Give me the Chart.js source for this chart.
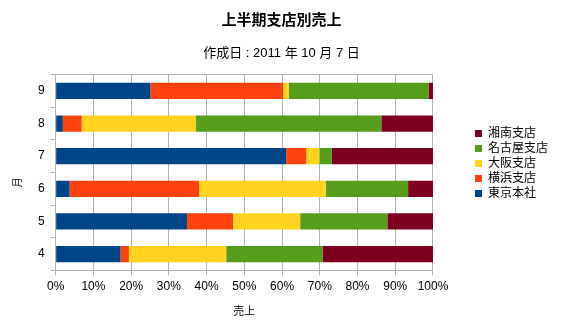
<!DOCTYPE html>
<html>
<head>
<meta charset="utf-8">
<script src="https://cdn.jsdelivr.net/npm/chart.js@4/dist/chart.umd.min.js"></script>
<style>
  html, body { margin: 0; padding: 0; background: #fff; }
  #wrap { width: 563px; height: 329px; }
</style>
</head>
<body>
<div id="wrap"><canvas id="salesChart"></canvas></div>
<script>
// months, top row first
const months = ['9', '8', '7', '6', '5', '4'];

// share of half-year sales per branch (%)
const tokyo    = [25.1,  1.9, 61.1,  3.7, 34.8, 17.2];
const yokohama = [35.2,  5.0,  5.3, 34.3, 12.2,  2.2];
const osaka    = [ 1.5, 30.3,  3.5, 33.6, 17.8, 25.8];
const nagoya   = [37.0, 49.1,  3.3, 21.8, 23.1, 25.5];
const shonan   = [ 1.2, 13.7, 26.8,  6.6, 12.1, 29.3];

const xTicks = [0, 10, 20, 30, 40, 50, 60, 70, 80, 90, 100];

const FONT = '"Liberation Sans", "Noto Sans CJK JP", sans-serif';
const GRID = '#b3b3b3';

// leave empty space between the plot and the legend
const LEGEND_GAP = 39;
const legendSpacing = {
    id: 'legendSpacing',
    beforeInit(chart) {
        const legend = chart.legend;
        const fit = legend.fit;
        legend.fit = function () {
            fit.call(this);
            this.width += LEGEND_GAP;
        };
    },
    afterLayout(chart) {
        chart.legend.left += LEGEND_GAP;
    }
};

const ctx = document.getElementById('salesChart').getContext('2d');

new Chart(ctx, {
    type: 'bar',
    data: {
        labels: months,
        datasets: [
            { label: '東京本社', data: tokyo, backgroundColor: '#004586' },
            { label: '横浜支店', data: yokohama, backgroundColor: '#ff420e' },
            { label: '大阪支店', data: osaka, backgroundColor: '#ffd320' },
            { label: '名古屋支店', data: nagoya, backgroundColor: '#579d1c' },
            { label: '湘南支店', data: shonan, backgroundColor: '#7e0021' }
        ]
    },
    plugins: [legendSpacing],
    options: {
        indexAxis: 'y',
        responsive: true,
        maintainAspectRatio: false,
        animation: false,
        datasets: {
            bar: { barPercentage: 0.5, categoryPercentage: 1, borderWidth: 0 }
        },
        layout: { padding: { left: 5, right: 5, top: 4, bottom: 6 } },
        scales: {
            x: {
                stacked: true,
                min: 0,
                max: 100,
                afterBuildTicks: (axis) => { axis.ticks = xTicks.map(v => ({ value: v })); },
                ticks: {
                    color: '#000',
                    font: { family: FONT, size: 12 },
                    padding: 4,
                    callback: (v) => v + '%'
                },
                grid: { color: GRID, tickColor: GRID, tickLength: 5 },
                border: { color: GRID },
                title: {
                    display: true,
                    text: '売上',
                    color: '#000',
                    font: { family: FONT, size: 11 },
                    padding: { top: 8 }
                }
            },
            y: {
                stacked: true,
                ticks: {
                    color: '#000',
                    font: { family: FONT, size: 12 },
                    padding: 6
                },
                grid: {
                    offset: true,
                    color: (c) => c.index === 0 ? GRID : 'rgba(0,0,0,0)',
                    tickColor: GRID,
                    tickLength: 5
                },
                border: { color: GRID },
                title: {
                    display: true,
                    // trailing ideographic spaces push the glyph a little lower
                    text: '月\u3000\u3000',
                    color: '#000',
                    font: { family: FONT, size: 10 },
                    padding: { top: 7, bottom: 8 }
                }
            }
        },
        plugins: {
            title: {
                display: true,
                text: '上半期支店別売上',
                color: '#000',
                font: { family: FONT, size: 15, weight: 'bold' },
                padding: { top: 8, bottom: 16 }
            },
            subtitle: {
                display: true,
                text: '作成日 : 2011 年 10 月 7 日',
                color: '#000',
                font: { family: FONT, size: 13 },
                padding: { bottom: 13 }
            },
            legend: {
                position: 'right',
                reverse: true,
                labels: {
                    color: '#000',
                    font: { family: FONT, size: 12 },
                    boxWidth: 7,
                    boxHeight: 7,
                    padding: 3
                }
            },
            tooltip: { enabled: false }
        }
    }
});
</script>
</body>
</html>
